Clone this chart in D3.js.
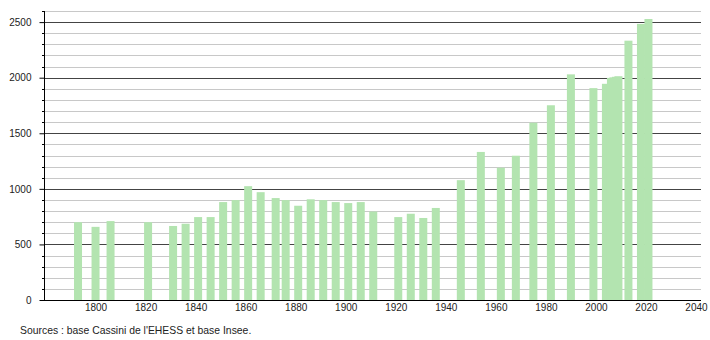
<!DOCTYPE html>
<html>
<head>
<meta charset="utf-8">
<script src="https://cdn.jsdelivr.net/npm/d3@7"></script>
<style>
    body { margin: 0; background: #fff; }
    text { font-family: "Liberation Sans", Arial, sans-serif; font-size: 10px; fill: #222; }
</style>
</head>
<body>
<div class="chart"></div>
<script>
// population by census year
var years = [1793, 1800, 1806, 1821, 1831, 1836, 1841, 1846, 1851, 1856,
    1861, 1866, 1872, 1876, 1881, 1886, 1891, 1896, 1901, 1906,
    1911, 1921, 1926, 1931, 1936, 1946, 1954, 1962, 1968, 1975,
    1982, 1990, 1999, 2004, 2006, 2007, 2008, 2009, 2013, 2018, 2021];
var population = [700, 658, 710, 700, 666, 686, 746, 746, 881, 899,
    1024, 970, 917, 899, 848, 906, 899, 881, 872, 881,
    796, 746, 776, 738, 828, 1078, 1332, 1190, 1298, 1595,
    1752, 2030, 1906, 1945, 1998, 2003, 2008, 2013, 2333, 2484, 2528];
var xTicks = [1800, 1820, 1840, 1860, 1880, 1900, 1920, 1940, 1960, 1980, 2000, 2020, 2040];
var yTicks = [0, 500, 1000, 1500, 2000, 2500];
var sourceText = "Sources : base Cassini de l'EHESS et base Insee.";

var svgWidth = 710;
var svgHeight = 340;

var margin = { top: 11, right: 9, bottom: 40, left: 44 };
var width = svgWidth - margin.left - margin.right;
var height = svgHeight - margin.top - margin.bottom;

var svg = d3.select(".chart")
    .append("svg")
    .attr("width", svgWidth)
    .attr("height", svgHeight);

var chartGroup = svg.append("g")
    .attr("transform", `translate(${margin.left}, ${margin.top})`);

var xScale = d3.scaleLinear()
    .domain([1779.4, 2042])
    .range([0, width]);

var yScale = d3.scaleLinear()
    .domain([0, 2600])
    .range([height, 0]);

var barWidth = 8;

// minor grid every 100, major every 500
var minorValues = d3.range(100, 2700, 100).filter(v => v % 500 !== 0);

chartGroup.append("g")
    .selectAll("line")
    .data(minorValues)
    .enter()
    .append("line")
    .attr("x1", 0)
    .attr("x2", width)
    .attr("y1", d => Math.round(yScale(d)) + 0.5)
    .attr("y2", d => Math.round(yScale(d)) + 0.5)
    .attr("stroke", "#c8c8c8")
    .attr("stroke-width", 1);

chartGroup.append("g")
    .selectAll("line")
    .data(yTicks.filter(v => v > 0))
    .enter()
    .append("line")
    .attr("x1", 0)
    .attr("x2", width)
    .attr("y1", d => Math.round(yScale(d)) + 0.5)
    .attr("y2", d => Math.round(yScale(d)) + 0.5)
    .attr("stroke", "#444")
    .attr("stroke-width", 1);

// bars
chartGroup.selectAll("rect.bar")
    .data(years)
    .enter()
    .append("rect")
    .classed("bar", true)
    .attr("x", (d, i) => xScale(d) - barWidth / 2)
    .attr("y", (d, i) => yScale(population[i]))
    .attr("width", barWidth)
    .attr("height", (d, i) => height - yScale(population[i]))
    .attr("fill", "#b3e4b0");

// y axis: minor ticks
chartGroup.append("g")
    .selectAll("line")
    .data(minorValues)
    .enter()
    .append("line")
    .attr("x1", -2)
    .attr("x2", 0)
    .attr("y1", d => Math.round(yScale(d)) + 0.5)
    .attr("y2", d => Math.round(yScale(d)) + 0.5)
    .attr("stroke", "#000");

var leftAxis = d3.axisLeft(yScale)
    .tickValues(yTicks)
    .tickSize(5)
    .tickPadding(8)
    .tickFormat(d3.format("d"));

var yAxis = chartGroup.append("g")
    .attr("transform", "translate(0.5, 0)")
    .call(leftAxis);

yAxis.select(".domain").attr("stroke", "#000").attr("d", `M0,0V${height}`);
yAxis.selectAll(".tick line").attr("stroke", "#000");
yAxis.selectAll("text").attr("font-size", 10).attr("font-family", null);

var bottomAxis = d3.axisBottom(xScale)
    .tickValues(xTicks)
    .tickSize(0)
    .tickPadding(3)
    .tickFormat(d3.format("d"));

var xAxis = chartGroup.append("g")
    .attr("transform", `translate(0, ${height + 0.5})`)
    .call(bottomAxis);

xAxis.select(".domain").attr("stroke", "#000").attr("d", `M0,0H${width}`);
xAxis.selectAll("text").attr("font-size", 10).attr("font-family", null);

svg.append("text")
    .attr("x", 20)
    .attr("y", 334)
    .style("font-size", "10.4px")
    .text(sourceText);
</script>
</body>
</html>
